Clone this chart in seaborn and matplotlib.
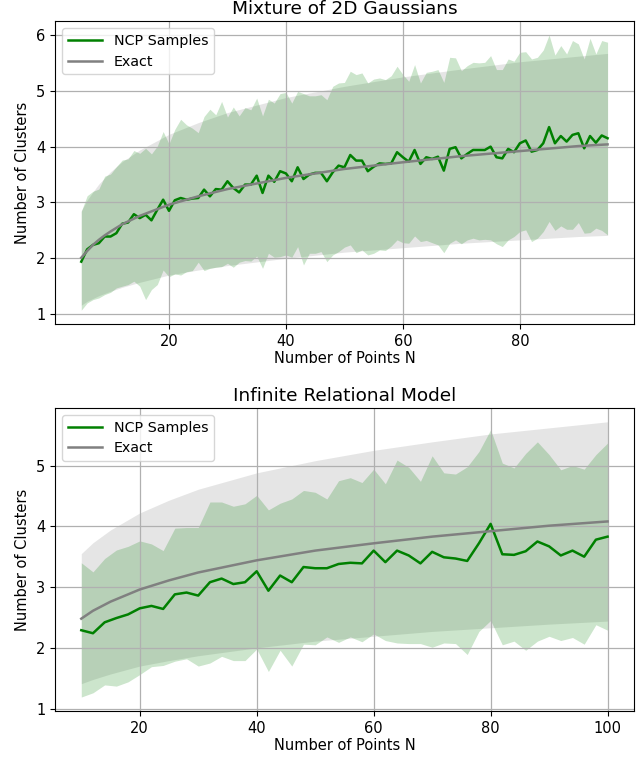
import numpy as np
import pandas as pd
import matplotlib
matplotlib.use("Agg")
import matplotlib.pyplot as plt
import seaborn as sns

# ---------------- Top panel: Mixture of 2D Gaussians ----------------
top_n = list(range(5, 96))
top_ncp_mean = [1.94, 2.16, 2.24, 2.27, 2.39, 2.39, 2.45, 2.62, 2.64, 2.79,
                2.72, 2.78, 2.68, 2.87, 3.05, 2.85, 3.04, 3.08, 3.05, 3.07,
                3.08, 3.23, 3.11, 3.24, 3.23, 3.38, 3.26, 3.18, 3.32, 3.32,
                3.48, 3.17, 3.48, 3.37, 3.56, 3.52, 3.38, 3.63, 3.42, 3.50,
                3.53, 3.53, 3.38, 3.54, 3.66, 3.63, 3.85, 3.75, 3.75, 3.56,
                3.64, 3.70, 3.69, 3.70, 3.90, 3.81, 3.73, 3.94, 3.69, 3.81,
                3.78, 3.82, 3.57, 3.96, 3.99, 3.79, 3.87, 3.94, 3.94, 3.94,
                4.00, 3.81, 3.79, 3.96, 3.90, 4.06, 4.11, 3.91, 3.94, 4.06,
                4.35, 4.06, 4.19, 4.09, 4.21, 4.24, 3.97, 4.19, 4.07, 4.20,
                4.15]
top_ncp_hi = [2.84, 3.12, 3.20, 3.24, 3.47, 3.51, 3.64, 3.76, 3.78, 3.93,
              3.88, 3.97, 3.87, 4.01, 4.27, 4.05, 4.31, 4.49, 4.39, 4.33,
              4.25, 4.54, 4.67, 4.57, 4.81, 4.53, 4.71, 4.55, 4.70, 4.66,
              4.87, 4.55, 4.85, 4.78, 4.95, 4.97, 4.78, 4.99, 4.95, 4.91,
              4.91, 4.93, 4.84, 5.08, 5.14, 5.15, 5.35, 5.29, 5.32, 5.14,
              5.21, 5.23, 5.20, 5.27, 5.44, 5.29, 5.17, 5.47, 5.14, 5.33,
              5.35, 5.38, 5.15, 5.60, 5.59, 5.36, 5.45, 5.51, 5.50, 5.51,
              5.63, 5.38, 5.38, 5.57, 5.53, 5.69, 5.70, 5.57, 5.60, 5.73,
              6.00, 5.64, 5.81, 5.66, 5.90, 5.84, 5.57, 5.94, 5.66, 5.90,
              5.87]
top_ncp_lo = [1.07, 1.20, 1.26, 1.29, 1.35, 1.39, 1.47, 1.50, 1.53, 1.59,
              1.50, 1.26, 1.44, 1.53, 1.79, 1.67, 1.72, 1.70, 1.76, 1.78,
              1.93, 1.78, 1.82, 1.84, 1.85, 1.91, 1.84, 1.93, 1.96, 1.95,
              2.04, 1.82, 2.09, 2.02, 2.03, 2.06, 2.02, 2.21, 1.88, 2.09,
              2.09, 2.12, 1.94, 2.06, 2.12, 2.20, 2.24, 2.10, 2.15, 2.06,
              2.09, 2.15, 2.14, 2.22, 2.33, 2.28, 2.27, 2.40, 2.30, 2.32,
              2.28, 2.24, 2.10, 2.27, 2.33, 2.26, 2.33, 2.36, 2.33, 2.34,
              2.33, 2.26, 2.21, 2.33, 2.39, 2.48, 2.51, 2.30, 2.36, 2.48,
              2.66, 2.50, 2.58, 2.52, 2.52, 2.64, 2.45, 2.46, 2.54, 2.50,
              2.42]
top_exact_n = [5, 6, 7, 8, 9, 10, 12, 15, 20, 25, 30, 40, 50, 60, 70, 80, 90, 95]
top_exact_mean = [2.01, 2.13, 2.24, 2.33, 2.41, 2.48, 2.61, 2.76, 2.96, 3.11,
                  3.24, 3.44, 3.60, 3.72, 3.83, 3.92, 4.01, 4.04]
top_exact_lo = [1.16, 1.23, 1.28, 1.33, 1.37, 1.41, 1.48, 1.57, 1.70, 1.79,
                1.87, 2.00, 2.11, 2.19, 2.27, 2.33, 2.39, 2.41]
top_exact_hi = [2.85, 3.04, 3.19, 3.33, 3.44, 3.55, 3.73, 3.94, 4.22, 4.43,
                4.61, 4.88, 5.08, 5.25, 5.39, 5.52, 5.62, 5.67]

# ---------------- Bottom panel: Infinite Relational Model ----------------
bot_n = list(range(10, 101, 2))
bot_ncp_mean = [2.29, 2.24, 2.42, 2.49, 2.55, 2.65, 2.69, 2.64, 2.88, 2.91,
                2.86, 3.08, 3.14, 3.05, 3.08, 3.26, 2.94, 3.19, 3.08, 3.33,
                3.31, 3.31, 3.38, 3.40, 3.39, 3.60, 3.41, 3.60, 3.52, 3.39,
                3.58, 3.49, 3.47, 3.43, 3.72, 4.04, 3.54, 3.53, 3.59, 3.75,
                3.67, 3.52, 3.60, 3.50, 3.78, 3.83]
bot_ncp_hi = [3.40, 3.25, 3.47, 3.61, 3.67, 3.76, 3.71, 3.60, 3.97, 3.98,
              3.98, 4.40, 4.40, 4.33, 4.37, 4.51, 4.27, 4.38, 4.45, 4.59,
              4.56, 4.45, 4.75, 4.80, 4.72, 4.94, 4.70, 5.09, 4.97, 4.74,
              5.16, 4.88, 4.86, 4.98, 5.23, 5.59, 5.04, 4.96, 5.20, 5.39,
              5.18, 4.93, 5.00, 4.94, 5.18, 5.37]
bot_ncp_lo = [1.19, 1.26, 1.39, 1.37, 1.44, 1.56, 1.69, 1.71, 1.78, 1.82,
              1.70, 1.75, 1.86, 1.79, 1.79, 1.98, 1.61, 1.96, 1.70, 2.06,
              2.05, 2.18, 2.09, 2.18, 2.10, 2.23, 2.12, 2.08, 2.07, 2.07,
              2.01, 2.08, 2.07, 1.89, 2.27, 2.45, 2.05, 2.11, 1.96, 2.11,
              2.19, 2.12, 2.17, 2.06, 2.38, 2.29]
bot_exact_n = [10, 12, 15, 20, 25, 30, 40, 50, 60, 70, 80, 90, 100]
bot_exact_mean = [2.48, 2.61, 2.76, 2.96, 3.11, 3.24, 3.44, 3.60, 3.72, 3.83, 3.92, 4.01, 4.08]
bot_exact_lo = [1.41, 1.48, 1.57, 1.70, 1.79, 1.87, 2.00, 2.11, 2.19, 2.27, 2.33, 2.39, 2.44]
bot_exact_hi = [3.55, 3.73, 3.94, 4.22, 4.43, 4.61, 4.88, 5.08, 5.25, 5.39, 5.52, 5.62, 5.72]

titles = ["Mixture of 2D Gaussians", "Infinite Relational Model"]

fig = plt.figure(figsize=(6.39, 7.57), dpi=100)
ax_top = fig.add_axes([0.086, 0.572, 0.906, 0.400])
ax_bot = fig.add_axes([0.086, 0.061, 0.906, 0.400])

panels = [
    (ax_top, top_n, top_ncp_mean, top_ncp_lo, top_ncp_hi,
     top_exact_n, top_exact_mean, top_exact_lo, top_exact_hi, titles[0]),
    (ax_bot, bot_n, bot_ncp_mean, bot_ncp_lo, bot_ncp_hi,
     bot_exact_n, bot_exact_mean, bot_exact_lo, bot_exact_hi, titles[1]),
]

for (ax, n, m, lo, hi, en, em, elo, ehi, title) in panels:
    ax.fill_between(en, elo, ehi, color="grey", alpha=0.2, linewidth=0)
    ax.fill_between(n, lo, hi, color="green", alpha=0.2, linewidth=0)
    df_ncp = pd.DataFrame({"N": n, "K": m})
    df_ex = pd.DataFrame({"N": en, "K": em})
    sns.lineplot(data=df_ncp, x="N", y="K", color="green", linewidth=1.8,
                 label="NCP Samples", ax=ax)
    sns.lineplot(data=df_ex, x="N", y="K", color="grey", linewidth=1.8,
                 label="Exact", ax=ax)
    ax.grid(True, color="#b0b0b0", linewidth=0.9)
    ax.set_title(title, fontsize=13.3, pad=5)
    ax.set_xlabel("Number of Points N", fontsize=10.5, labelpad=2)
    ax.set_ylabel("Number of Clusters", fontsize=10.5)
    ax.tick_params(labelsize=10.5)
    ax.legend(loc="upper left", fontsize=10.3, handlelength=2.4,
              labelspacing=0.45)

fig.savefig("out.png", dpi=100)
